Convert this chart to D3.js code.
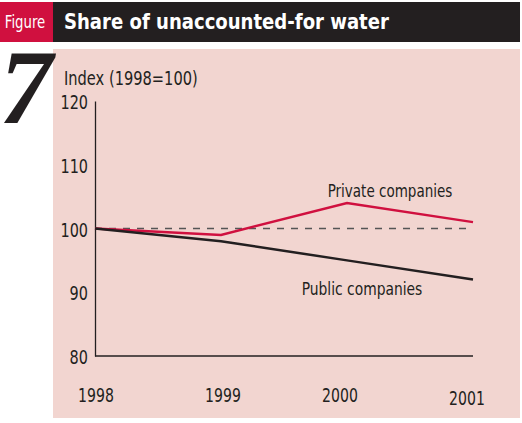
<!DOCTYPE html>
<html>
<head>
<meta charset="utf-8">
<script src="https://cdn.jsdelivr.net/npm/d3@7"></script>
<style>
  body { margin: 0; background: #fff; }
  svg { display: block; }
  text { font-family: "DejaVu Sans", sans-serif; fill: #231f20; }
</style>
</head>
<body>
<div id="chart"></div>
<script>
// data
const years = [1998, 1999, 2000, 2001];
const privateValues = [100, 99, 104, 101];
const publicValues = [100, 98, 95, 92];
const yTicks = [80, 90, 100, 110, 120];
const baseline = 100;

const width = 522, height = 423;
const red = "#d0103f", dark = "#231f20", pink = "#f2d5d0";

// squeeze text horizontally to mimic a condensed face
function condense(sel, k) {
    sel.each(function () {
        this.setAttribute("textLength", this.getComputedTextLength() * k);
        this.setAttribute("lengthAdjust", "spacingAndGlyphs");
    });
}

const svg = d3.select("#chart").append("svg")
    .attr("width", width)
    .attr("height", height);

// header
svg.append("rect").attr("x", 0).attr("y", 2).attr("width", 53).attr("height", 40).attr("fill", red);
svg.append("rect").attr("x", 53).attr("y", 2).attr("width", 467).attr("height", 40).attr("fill", dark);
svg.append("text").attr("x", 25).attr("y", 28).attr("text-anchor", "middle")
    .style("fill", "#fff").style("font-size", "17px").text("Figure")
    .call(condense, 0.78);
svg.append("text").attr("x", 64).attr("y", 29)
    .style("fill", "#fff").style("font-size", "21px").style("font-weight", "bold")
    .text("Share of unaccounted-for water")
    .call(condense, 0.86);

// pink panel
svg.append("rect").attr("x", 53).attr("y", 49).attr("width", 467).attr("height", 369).attr("fill", pink);

// big figure number
svg.append("text").attr("x", 26).attr("y", 123).attr("text-anchor", "middle")
    .style("font-family", "'Liberation Serif', serif").style("font-style", "italic")
    .style("font-weight", "bold")
    .style("font-size", "106px").text("7");

// scales
const x = d3.scalePoint().domain(years).range([95, 473]);
const y = d3.scaleLinear().domain([80, 120]).range([356, 101]);

// axis title
svg.append("text").attr("x", 64).attr("y", 85).style("font-size", "19px").text("Index (1998=100)")
    .call(condense, 0.77);

// y axis
const yAxis = svg.append("g").attr("transform", "translate(95,0)")
    .call(d3.axisLeft(y).tickValues(yTicks).tickSize(0).tickPadding(7));
yAxis.select(".domain").attr("stroke", dark).attr("stroke-width", 1.3);
yAxis.selectAll("text").style("font-size", "19px").style("font-family", null)
    .attr("dy", "0.4em")
    .call(condense, 0.76);

// x axis line
svg.append("line").attr("x1", x(1998)).attr("x2", x(2001))
    .attr("y1", y(80)).attr("y2", y(80)).attr("stroke", dark).attr("stroke-width", 1.3);

// x labels
svg.selectAll(".xlab").data(years).join("text")
    .attr("class", "xlab")
    .attr("x", (d, i) => x(d) + [1, 2, -7, -6][i])
    .attr("y", (d, i) => 402 + (i === 3 ? 3 : 0))
    .attr("text-anchor", "middle")
    .style("font-size", "19px")
    .text(d => d)
    .call(condense, 0.74);

// dashed baseline
svg.append("line").attr("x1", x(1998)).attr("x2", x(2001))
    .attr("y1", y(baseline)).attr("y2", y(baseline))
    .attr("stroke", "#555").attr("stroke-width", 1.3).attr("stroke-dasharray", "7,7");

const line = d3.line().x((d, i) => x(years[i])).y(d => y(d));

svg.append("path").datum(privateValues).attr("d", line)
    .attr("fill", "none").attr("stroke", red).attr("stroke-width", 2.5);
svg.append("path").datum(publicValues).attr("d", line)
    .attr("fill", "none").attr("stroke", dark).attr("stroke-width", 2.5);

// series labels
svg.append("text").attr("x", 390).attr("y", 197).attr("text-anchor", "middle")
    .style("font-size", "18px").text("Private companies")
    .call(condense, 0.75);
svg.append("text").attr("x", 362).attr("y", 295).attr("text-anchor", "middle")
    .style("font-size", "18px").text("Public companies")
    .call(condense, 0.77);
</script>
</body>
</html>
